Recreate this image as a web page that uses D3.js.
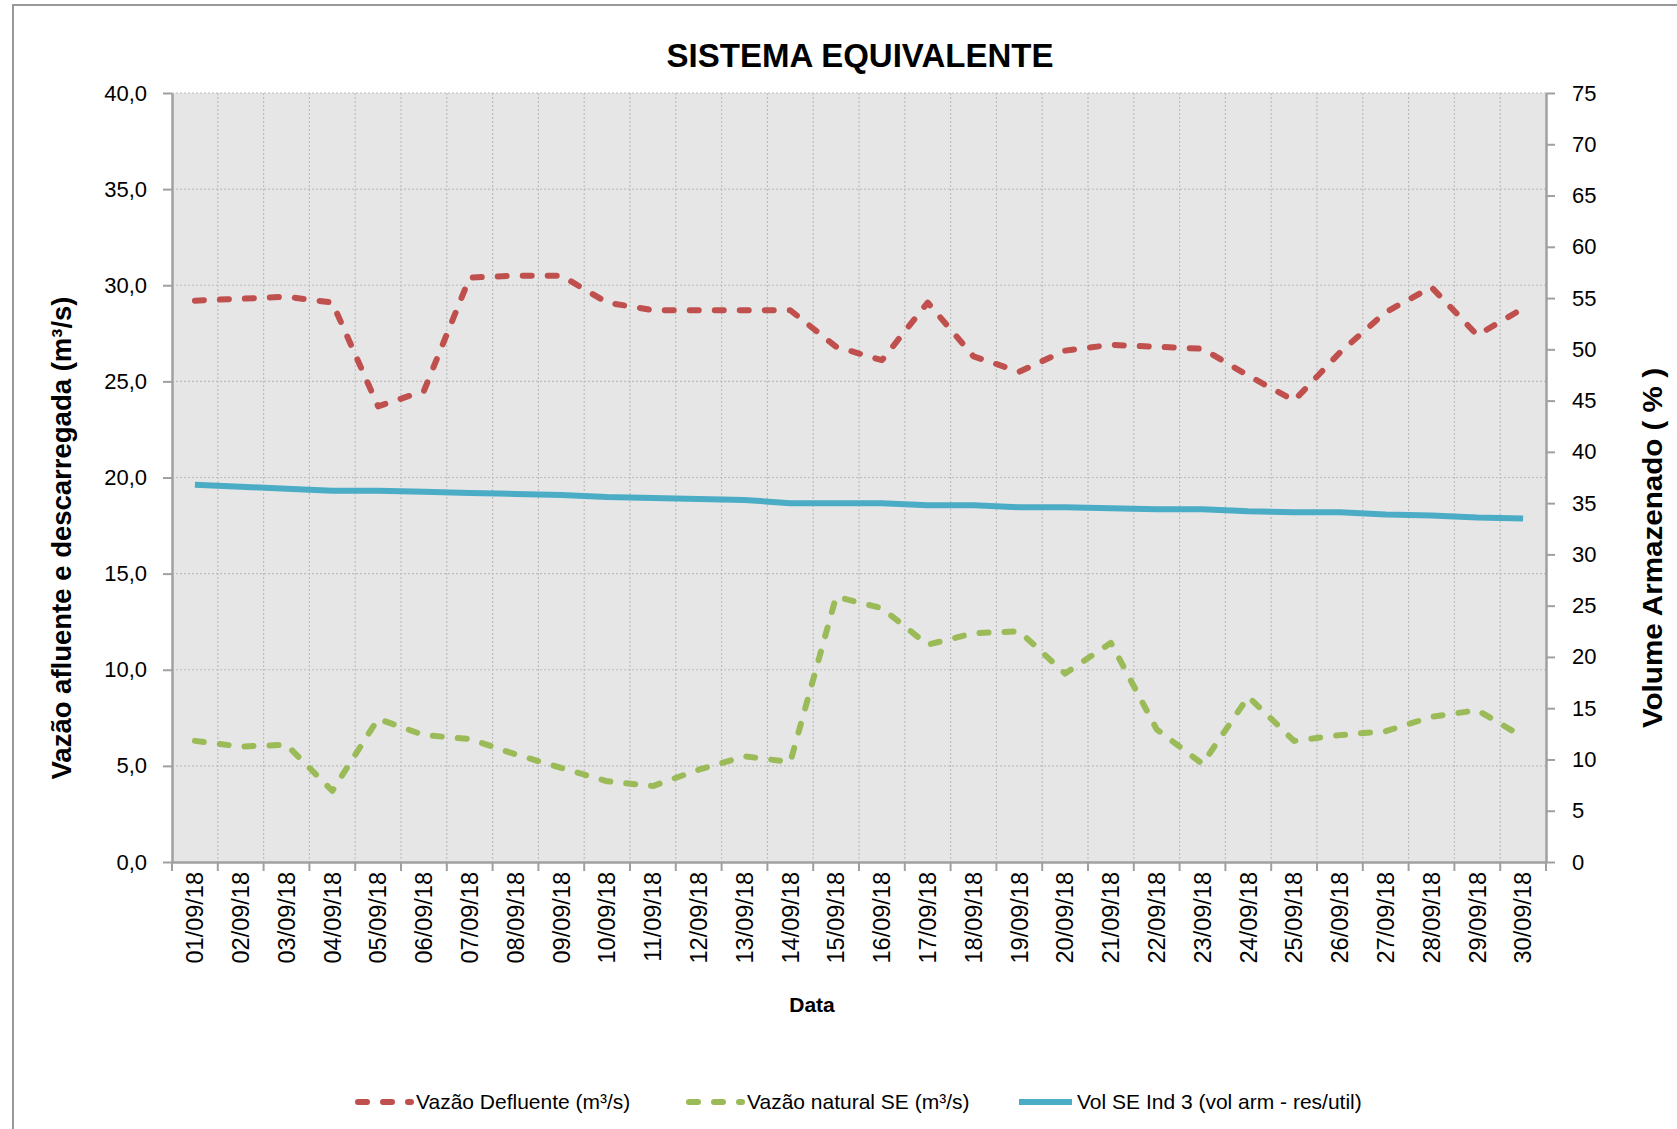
<!DOCTYPE html>
<html>
<head>
<meta charset="utf-8">
<script src="https://cdn.jsdelivr.net/npm/d3@7"></script>
<style>
  body { margin: 0; background: #fff; }
  svg { display: block; }
  .tick text { fill: #000; }
</style>
</head>
<body>
<div id="chart"></div>
<script>

// datas do mes (eixo x)
var dates = ["01/09/18","02/09/18","03/09/18","04/09/18","05/09/18","06/09/18","07/09/18","08/09/18","09/09/18","10/09/18",
             "11/09/18","12/09/18","13/09/18","14/09/18","15/09/18","16/09/18","17/09/18","18/09/18","19/09/18","20/09/18",
             "21/09/18","22/09/18","23/09/18","24/09/18","25/09/18","26/09/18","27/09/18","28/09/18","29/09/18","30/09/18"];

// vazao defluente (m3/s) - eixo esquerdo
var defluente = [29.2, 29.3, 29.4, 29.1, 23.7, 24.5, 30.4, 30.5, 30.5, 29.1,
                 28.7, 28.7, 28.7, 28.7, 26.8, 26.1, 29.1, 26.3, 25.5, 26.6,
                 26.9, 26.8, 26.7, 25.3, 24.0, 26.5, 28.6, 29.9, 27.4, 28.8];

// vazao natural SE (m3/s) - eixo esquerdo
var natural = [6.3, 6.0, 6.1, 3.7, 7.45, 6.6, 6.4, 5.6, 4.9, 4.2,
               3.95, 4.8, 5.5, 5.2, 13.8, 13.2, 11.3, 11.9, 12.0, 9.8,
               11.4, 6.9, 5.1, 8.6, 6.3, 6.6, 6.8, 7.55, 7.9, 6.5];

// volume armazenado (%) - eixo direito
var volume = [36.8, 36.6, 36.4, 36.2, 36.2, 36.1, 36.0, 35.9, 35.8, 35.6,
              35.5, 35.4, 35.3, 35.0, 35.0, 35.0, 34.8, 34.8, 34.6, 34.6,
              34.5, 34.4, 34.4, 34.2, 34.1, 34.1, 33.9, 33.8, 33.6, 33.5];

var leftTicks = [0, 5, 10, 15, 20, 25, 30, 35, 40];
var rightTicks = [0, 5, 10, 15, 20, 25, 30, 35, 40, 45, 50, 55, 60, 65, 70, 75];

var legendNames = ["Vazão Defluente (m³/s)", "Vazão natural SE (m³/s)", "Vol SE Ind 3 (vol arm - res/util)"];

var W = 1677, H = 1129;
var margin = { top: 93, right: W - 1546, bottom: H - 862, left: 172 };
var w = W - margin.left - margin.right;
var h = H - margin.top - margin.bottom;

var red = "#c0504d", green = "#9bbb59", blue = "#4bacc6";
var axisCol = "#a0a0a0";
var font = "'Liberation Sans', Arial, sans-serif";

var svg = d3.select("#chart").append("svg")
    .attr("width", W)
    .attr("height", H)
    .style("font-family", font);

// moldura externa
svg.append("rect")
    .attr("x", 13).attr("y", 5)
    .attr("width", W + 20).attr("height", H + 20)
    .attr("fill", "none")
    .attr("stroke", "#999")
    .attr("stroke-width", 2);

var g = svg.append("g")
    .attr("transform", "translate(" + margin.left + "," + margin.top + ")");

var x = d3.scaleBand().domain(dates).range([0, w]).padding(0);
var yL = d3.scaleLinear().domain([0, 40]).range([h, 0]);
var yR = d3.scaleLinear().domain([0, 75]).range([h, 0]);

g.append("rect")
    .attr("width", w).attr("height", h)
    .attr("fill", "#e6e6e6");

// grade horizontal
g.selectAll(".hgrid")
    .data(leftTicks.slice(1))
    .enter().append("line")
    .attr("class", "hgrid")
    .attr("x1", 0).attr("x2", w)
    .attr("y1", function(d) { return yL(d); })
    .attr("y2", function(d) { return yL(d); })
    .attr("stroke", "#bdbdbd")
    .attr("stroke-width", 1.2)
    .attr("stroke-dasharray", "2,2");

// grade vertical (limites das categorias)
var bounds = dates.slice(1).map(function(d) { return x(d); });
g.selectAll(".vgrid")
    .data(bounds)
    .enter().append("line")
    .attr("class", "vgrid")
    .attr("x1", function(d) { return d; })
    .attr("x2", function(d) { return d; })
    .attr("y1", 0).attr("y2", h)
    .attr("stroke", "#bdbdbd")
    .attr("stroke-width", 1.2)
    .attr("stroke-dasharray", "2,2");

// eixo esquerdo
var axL = g.append("g")
    .call(d3.axisLeft(yL).tickValues(leftTicks).tickSize(9).tickPadding(16).tickSizeOuter(0)
        .tickFormat(function(d) { return d3.format(".1f")(d).replace(".", ","); }));
axL.selectAll("text").style("font-size", "22px").style("font-family", font);

// eixo direito
var axR = g.append("g")
    .attr("transform", "translate(" + w + ",0)")
    .call(d3.axisRight(yR).tickValues(rightTicks).tickSize(9).tickPadding(17).tickSizeOuter(0));
axR.selectAll("text").style("font-size", "22px").style("font-family", font);

// eixo x
var axX = g.append("g")
    .attr("transform", "translate(0," + h + ")")
    .call(d3.axisBottom(x).tickSize(0).tickPadding(0));
axX.selectAll("text")
    .style("font-size", "23.5px")
    .style("font-family", font)
    .attr("text-anchor", "end")
    .attr("transform", "rotate(-90)")
    .attr("x", -10)
    .attr("y", 0)
    .attr("dy", "0.35em");

g.selectAll(".xtick")
    .data(bounds.concat([0, w]))
    .enter().append("line")
    .attr("x1", function(d) { return d; })
    .attr("x2", function(d) { return d; })
    .attr("y1", h).attr("y2", h + 9)
    .attr("stroke", axisCol)
    .attr("stroke-width", 2);

[axL, axR, axX].forEach(function(a) {
    a.selectAll(".domain").attr("stroke", axisCol).attr("stroke-width", 2.5);
    a.selectAll(".tick line").attr("stroke", axisCol).attr("stroke-width", 2);
});

// linhas
var lineL = d3.line()
    .x(function(d, i) { return x(dates[i]) + x.bandwidth() / 2; })
    .y(function(d) { return yL(d); });
var lineR = d3.line()
    .x(function(d, i) { return x(dates[i]) + x.bandwidth() / 2; })
    .y(function(d) { return yR(d); });

g.append("path")
    .datum(volume)
    .attr("d", lineR)
    .attr("fill", "none")
    .attr("stroke", blue)
    .attr("stroke-width", 6)
    .attr("stroke-linejoin", "round");

g.append("path")
    .datum(natural)
    .attr("d", lineL)
    .attr("fill", "none")
    .attr("stroke", green)
    .attr("stroke-width", 6)
    .attr("stroke-linecap", "round")
    .attr("stroke-linejoin", "round")
    .attr("stroke-dasharray", "9,16");

g.append("path")
    .datum(defluente)
    .attr("d", lineL)
    .attr("fill", "none")
    .attr("stroke", red)
    .attr("stroke-width", 6)
    .attr("stroke-linecap", "round")
    .attr("stroke-linejoin", "round")
    .attr("stroke-dasharray", "9,16");

// titulos
svg.append("text")
    .attr("x", 860).attr("y", 67)
    .attr("text-anchor", "middle")
    .style("font-size", "33px")
    .style("font-weight", "bold")
    .text("SISTEMA EQUIVALENTE");

svg.append("text")
    .attr("transform", "translate(71,538) rotate(-90)")
    .attr("text-anchor", "middle")
    .attr("textLength", 483)
    .attr("lengthAdjust", "spacingAndGlyphs")
    .style("font-size", "27px")
    .style("font-weight", "bold")
    .text("Vazão afluente e descarregada (m³/s)");

svg.append("text")
    .attr("transform", "translate(1662,548) rotate(-90)")
    .attr("text-anchor", "middle")
    .attr("textLength", 360)
    .attr("lengthAdjust", "spacingAndGlyphs")
    .style("font-size", "28px")
    .style("font-weight", "bold")
    .text("Volume Armazenado ( % )");

svg.append("text")
    .attr("x", 812).attr("y", 1012)
    .attr("text-anchor", "middle")
    .style("font-size", "21px")
    .style("font-weight", "bold")
    .text("Data");

// legenda
var legX = [355, 686, 1016];
var legCol = [red, green, blue];
var legDash = ["9,16", "9,16", null];
var leg = svg.selectAll(".leg")
    .data(legendNames)
    .enter().append("g")
    .attr("class", "leg")
    .attr("transform", function(d, i) { return "translate(" + legX[i] + ",1102)"; });

leg.append("line")
    .attr("x1", 3).attr("x2", 56)
    .attr("y1", 0).attr("y2", 0)
    .attr("stroke", function(d, i) { return legCol[i]; })
    .attr("stroke-width", 6)
    .attr("stroke-linecap", function(d, i) { return legDash[i] ? "round" : "butt"; })
    .attr("stroke-dasharray", function(d, i) { return legDash[i]; });

leg.append("text")
    .attr("x", 61).attr("y", 0)
    .attr("dy", "0.35em")
    .style("font-size", "21px")
    .text(function(d) { return d; });

</script>
</body>
</html>
